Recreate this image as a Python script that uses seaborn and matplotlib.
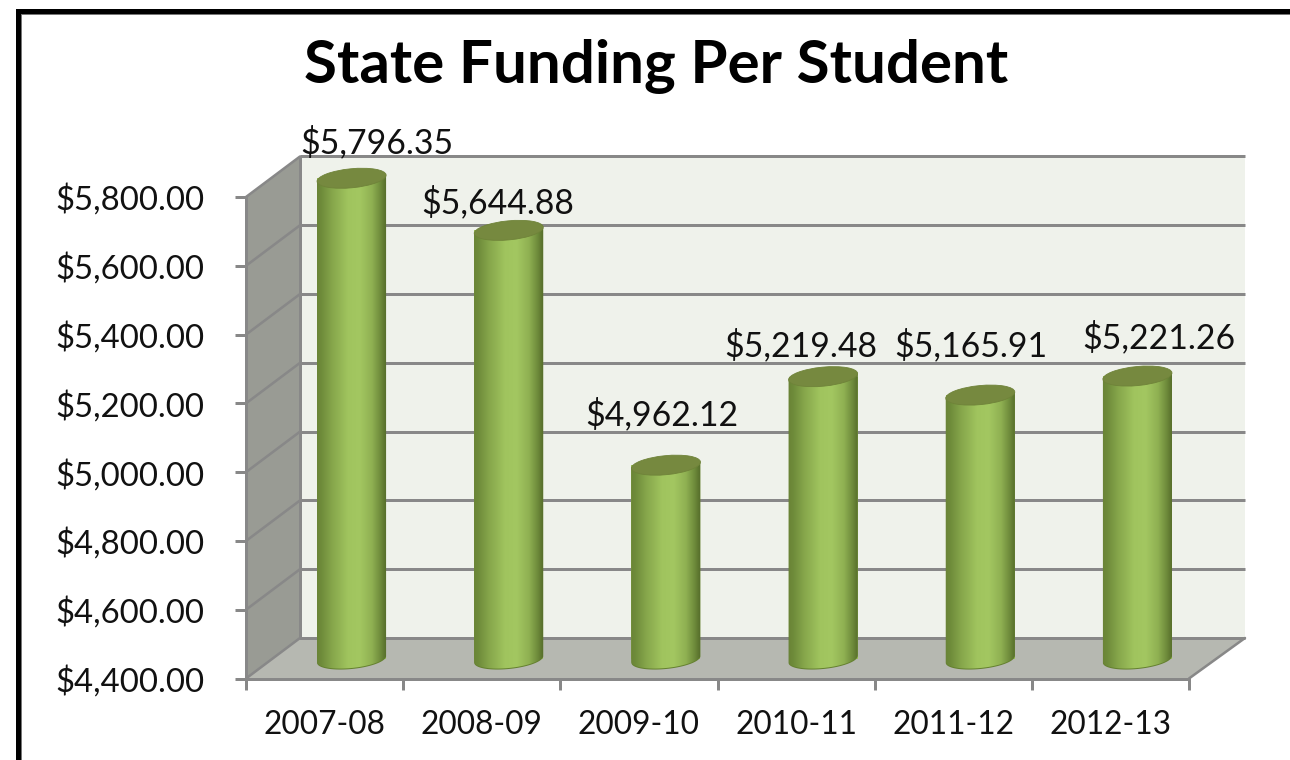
import numpy as np
import pandas as pd
import matplotlib
matplotlib.use("Agg")
import matplotlib.pyplot as plt
from matplotlib.colors import LinearSegmentedColormap
from matplotlib.patches import Ellipse, Polygon, Rectangle
from matplotlib.path import Path
from matplotlib.transforms import IdentityTransform
import seaborn as sns

# ---- data ----
years = ["2007-08", "2008-09", "2009-10", "2010-11", "2011-12", "2012-13"]
funding = [5796.35, 5644.88, 4962.12, 5219.48, 5165.91, 5221.26]
y_ticks = [4400, 4600, 4800, 5000, 5200, 5400, 5600, 5800]
title_text = "State Funding Per Student"

# ---- manual label nudges (px) as in the original ----
label_dx = [25, -11, -4, -22, -9, 21]
label_dy = [37, 29, 52, 33, 51, 40]

W, H = 1290, 760
sns.set_theme(style="white")
plt.rcParams["font.family"] = ["Lato", "DejaVu Sans"]

fig = plt.figure(figsize=(W / 100, H / 100), dpi=100, facecolor="white")

# front plane of the fake-3D box, pixels with y measured from the top
FL, FR, FT, FB = 246, 1189, 197, 678.5
DX, DY = 54, 40.5            # depth of the box
SX, SY = 27, 20              # columns stand mid-depth
GRID = "#888888"


def rect(l, r, t, b):
    return [l / W, 1 - b / H, (r - l) / W, (b - t) / H]


# background layer: frame, walls, floor
bg = fig.add_axes([0, 0, 1, 1], zorder=0)
bg.set_xlim(0, W)
bg.set_ylim(H, 0)
bg.axis("off")

bg.add_patch(Rectangle((16, 9), 5, H, fc="black", ec="none"))
bg.add_patch(Rectangle((16, 9), W, 5, fc="black", ec="none"))
bg.add_patch(Rectangle((21, 14), 1, H, fc="#777777", ec="none"))
bg.add_patch(Rectangle((21, 14), W, 1, fc="#777777", ec="none"))

bg.add_patch(Polygon([(FL + DX, FT - DY), (FR + DX + 2, FT - DY),
                      (FR + DX + 2, FB - DY), (FL + DX, FB - DY)],
                     fc="#eff2eb", ec="none"))
bg.add_patch(Polygon([(FL, FT), (FL + DX, FT - DY), (FL + DX, FB - DY), (FL, FB)],
                     fc="#999b94", ec="none"))
bg.add_patch(Polygon([(FL, FB), (FL + DX, FB - DY), (FR + DX + 2, FB - DY), (FR, FB)],
                     fc="#b6b8b1", ec="none"))

lw = 3.0 * 72 / 100
tick_step = (FB - FT) / (len(y_ticks) - 1)
for k in range(len(y_ticks)):
    y = FB - k * tick_step
    bg.plot([FL, FL + DX], [y, y - DY], color=GRID, lw=lw * 0.85, solid_capstyle="round")
    bg.plot([FL + DX, FR + DX + 2], [y - DY, y - DY], color=GRID, lw=lw, solid_capstyle="butt")
bg.plot([FL + DX, FL + DX], [FT - DY, FB - DY], color=GRID, lw=lw)
bg.plot([FR, FR + DX + 2], [FB, FB - DY], color=GRID, lw=lw * 0.85, solid_capstyle="round")

# front axes: ticks and tick labels
ax = fig.add_axes(rect(FL, FR, FT, FB), zorder=1)
ax.patch.set_alpha(0)
ax.set_xlim(-0.5, len(years) - 0.5)
ax.set_ylim(y_ticks[0], y_ticks[-1])
ax.set_yticks(y_ticks)
ax.set_yticklabels([f"${t:,.2f}" for t in y_ticks])
ax.set_xticks(range(len(years)))
ax.set_xticklabels(years)
ax.set_xticks(np.arange(len(years) + 1) - 0.5, minor=True)
ax.tick_params(axis="y", length=8, width=lw, color=GRID, labelsize=23.7, pad=22,
               labelcolor="#111111", left=True)
ax.tick_params(axis="x", which="major", length=0, labelsize=22.8, pad=23, labelcolor="#111111")
ax.tick_params(axis="x", which="minor", length=8, width=lw, color=GRID, bottom=True)
for name, sp in ax.spines.items():
    sp.set_visible(name in ("left", "bottom"))
    sp.set_color(GRID)
    sp.set_linewidth(lw)

# column layer: same scales, shifted to mid-depth
ax_bars = fig.add_axes(rect(FL + SX, FR + SX, FT - SY, FB - SY), zorder=2)
frame = pd.DataFrame({"year": years, "funding": funding})
sns.barplot(data=frame, x="year", y="funding", ax=ax_bars, color="#9dc15c",
            width=0.439, saturation=1, errorbar=None, linewidth=0, edgecolor="none")
ax_bars.set_xlim(-0.5, len(years) - 0.5)
ax_bars.set_ylim(y_ticks[0], y_ticks[-1])
ax_bars.axis("off")
ax_bars.patch.set_alpha(0)

cyl = LinearSegmentedColormap.from_list(
    "cyl",
    [(0.00, "#6a8437"), (0.06, "#6e8b3a"), (0.22, "#86a64b"), (0.45, "#a0c45e"),
     (0.62, "#a3c761"), (0.80, "#8fb052"), (0.92, "#6f8c3c"), (1.00, "#586f2c")])
grad = np.linspace(0, 1, 256)[None, :]
ELL_H, TILT = 19.0, 5.5
to_px = ax_bars.transData
ident = IdentityTransform()

for i, bar in enumerate(ax_bars.patches):
    x0, x1 = bar.get_x(), bar.get_x() + bar.get_width()
    val = funding[i]
    (lx, top), (rx, base) = to_px.transform([(x0, val), (x1, y_ticks[0])])
    cx, w = (lx + rx) / 2, rx - lx
    a = np.radians(TILT)
    t = np.linspace(0, np.pi, 60)
    ex = w / 2 * np.cos(t)
    ey = -ELL_H / 2 * np.sin(t)
    low = np.column_stack([cx + ex, base + ex * np.sin(a) + ey])
    tl = (lx, top - w / 2 * np.sin(a))
    tr = (rx, top + w / 2 * np.sin(a))
    verts = np.vstack([[tl], [tr], low, [tl]])
    body = Path(verts, closed=True)

    # bottom rim, then cylinder shading, then the cap
    rim = Polygon(verts + [0, -1.0], transform=ident, fc="#64802f", ec="none", zorder=2.5,
                  clip_on=False)
    ax_bars.add_patch(rim)
    im = ax_bars.imshow(grad, cmap=cyl, aspect="auto", zorder=3,
                        extent=(x0, x1, y_ticks[0] - 40, val + 40))
    im.set_clip_box(fig.bbox)
    im.set_clip_path(body, transform=ident)
    cap = Ellipse((cx, top), w * 1.005, ELL_H, angle=TILT, fc="#76893f", ec="#6f8339",
                  lw=0.6, transform=ident, zorder=4, clip_on=False)
    ax_bars.add_patch(cap)
    ax_bars.annotate(f"${val:,.2f}", xy=(i, val),
                     xytext=(label_dx[i] * 0.72, (label_dy[i] - 1.5) * 0.72),
                     textcoords="offset points", ha="center", va="center", fontsize=24.3,
                     color="#111111", zorder=6, annotation_clip=False)

ax_bars.set_xlim(-0.5, len(years) - 0.5)
ax_bars.set_ylim(y_ticks[0], y_ticks[-1])

fig.text(656 / W, 1 - 67 / H, title_text, ha="center", va="center",
         fontsize=43.3, fontweight="bold", color="black")

fig.savefig("out.png", dpi=100, facecolor="white")
